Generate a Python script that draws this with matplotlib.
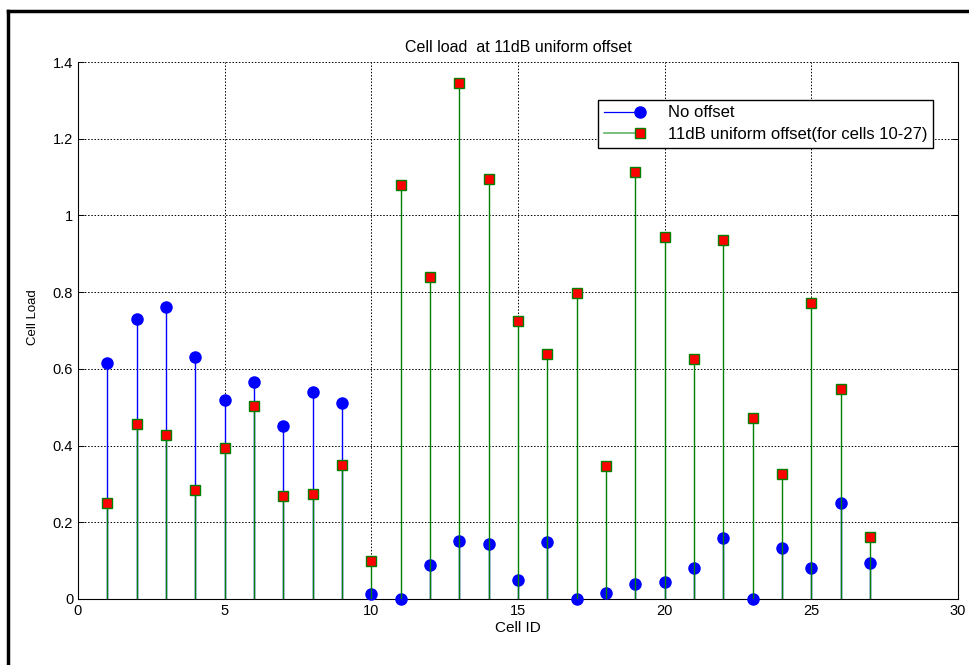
import numpy as np
import matplotlib
matplotlib.use("Agg")
import matplotlib.pyplot as plt
from matplotlib.lines import Line2D
from matplotlib.legend_handler import HandlerLine2D

plt.rcParams['font.family'] = ['Liberation Sans', 'DejaVu Sans']

cell_id = list(range(1, 28))

# cell load without offset
no_offset = [0.615, 0.73, 0.76, 0.63, 0.52, 0.565, 0.45, 0.54, 0.51,
             0.012, 0.0, 0.088, 0.152, 0.143, 0.05, 0.148, 0.0, 0.015,
             0.038, 0.045, 0.082, 0.158, 0.0, 0.133, 0.08, 0.25, 0.093]

# cell load with 11dB offset on cells 10-27
with_offset = [0.25, 0.457, 0.428, 0.285, 0.393, 0.503, 0.268, 0.275, 0.35,
               0.10, 1.08, 0.84, 1.345, 1.095, 0.725, 0.638, 0.797, 0.348,
               1.113, 0.943, 0.627, 0.935, 0.472, 0.327, 0.772, 0.548, 0.162]


class EndMarkerHandler(HandlerLine2D):
    # matlab style legend entry: marker at right end of the line
    def create_artists(self, *args, **kwargs):
        artists = super().create_artists(*args, **kwargs)
        artists[0].set_markevery([2])
        return artists


fig = plt.figure(figsize=(9.7, 6.65), dpi=100)
ax = fig.add_axes([78 / 970, 1 - 599 / 665, (958 - 78) / 970, (599 - 62) / 665])

green = (0, 0.5, 0)

# blue stems
ax.vlines(cell_id, 0, no_offset, colors='blue', lw=1.0, zorder=2)
ax.plot(cell_id, no_offset, 'o', color='blue', ms=8, mec='blue', zorder=3,
        clip_on=False)

# green stems
ax.vlines(cell_id, 0, with_offset, colors=green, lw=1.0, zorder=4)
ax.plot(cell_id, with_offset, 's', mfc='red', mec=green, ms=7.3, mew=1,
        zorder=5, clip_on=False)

ax.set_xlim(0, 30)
ax.set_ylim(0, 1.4)
ax.set_xticks([0, 5, 10, 15, 20, 25, 30])
ax.set_yticks([0, 0.2, 0.4, 0.6, 0.8, 1.0, 1.2, 1.4])
ax.set_yticklabels(['0', '0.2', '0.4', '0.6', '0.8', '1', '1.2', '1.4'])
ax.grid(True, color='black', linestyle=(0, (1.5, 1.8)), lw=0.7)
ax.set_axisbelow(True)
ax.spines['top'].set_visible(False)
for s in ['left', 'right', 'bottom']:
    ax.spines[s].set_linewidth(0.8)
ax.tick_params(direction='in', right=True, length=4, labelsize=10.5, width=0.7)

ax.set_title('Cell load  at 11dB uniform offset', fontsize=11.5, pad=7)
ax.set_xlabel('Cell ID', fontsize=11, labelpad=2)
ax.set_ylabel('Cell Load', fontsize=9.5)
ax.yaxis.set_label_coords(-0.044, 0.525)

handles = [
    Line2D([0], [0], color='blue', lw=0.9, marker='o', ms=8),
    Line2D([0], [0], color=(0.4, 0.7, 0.4), lw=1.2, marker='s', mfc='red',
           mec=green, ms=7.3),
]
leg = ax.legend(handles, ['No offset', '11dB uniform offset(for cells 10-27)'],
                loc='upper left', bbox_to_anchor=(0.582, 0.9456), fontsize=12,
                numpoints=1, frameon=True, fancybox=False, edgecolor='black',
                framealpha=1, borderpad=0.35, handlelength=2.15,
                labelspacing=0.4, handletextpad=1.67,
                handler_map={Line2D: EndMarkerHandler()})
leg.get_frame().set_linewidth(1.0)

# figure border
fig.add_artist(Line2D([8 / 970, 8 / 970], [0, 1 - 11 / 665], color='black',
                      lw=2.5, transform=fig.transFigure))
fig.add_artist(Line2D([8 / 970, 1], [1 - 11 / 665, 1 - 11 / 665],
                      color='black', lw=2.5, transform=fig.transFigure))

fig.savefig('out.png', dpi=100)
